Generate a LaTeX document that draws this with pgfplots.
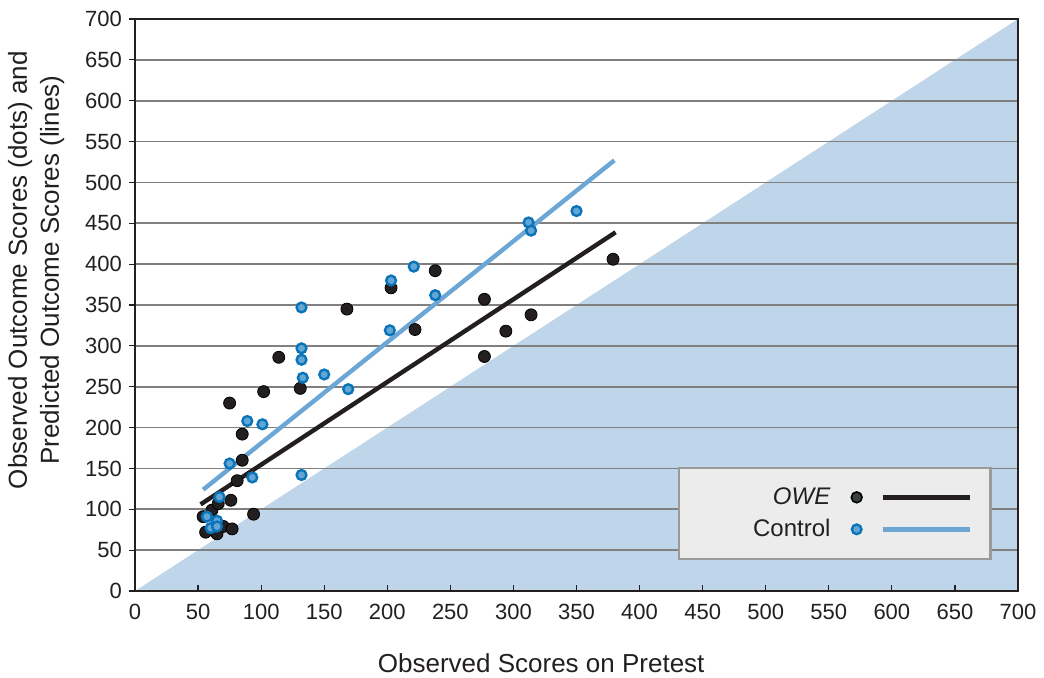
\documentclass[border=0pt]{standalone}
\usepackage{fontspec}
\setmainfont{Liberation Sans}
\usepackage{pgfplots}
\pgfplotsset{compat=1.18}
\definecolor{shade}{HTML}{BFD5E9}
\definecolor{dotblk}{HTML}{231F20}
\definecolor{ctrlline}{HTML}{6CA6D4}
\definecolor{ctrlfill}{HTML}{62A6D6}
\definecolor{ctrledge}{HTML}{0B74B8}
\definecolor{legbg}{HTML}{ECECEC}
\definecolor{legedge}{HTML}{9A9A9A}
\definecolor{legdot}{HTML}{3A3F3F}
\begin{document}
\begin{tikzpicture}
\begin{axis}[
  set layers,
  at={(0pt,0pt)}, anchor=south west,
  scale only axis, width=441.5pt, height=286pt,
  xmin=0, xmax=700, ymin=0, ymax=700,
  xtick distance=50, ytick distance=50,
  xtick pos=bottom, ytick pos=left,
  tick align=outside, major tick length=3pt,
  tick style={dotblk, line width=0.6pt},
  x tick style={yshift=3pt},
  ymajorgrids,
  grid style={black!50, line width=0.9pt},
  axis line style={dotblk, line width=1.2pt},
  /pgf/number format/assume math mode=true,
  tick label style={font=\fontsize{11}{13}\selectfont, text=dotblk},
  xlabel={Observed Scores on Pretest},
  ylabel={Observed Outcome Scores (dots) and\\Predicted Outcome Scores (lines)},
  label style={font=\fontsize{13}{16}\selectfont, text=dotblk},
  xlabel style={at={(axis description cs:0.460,-0.127)}, anchor=center},
  ylabel style={at={(axis description cs:-0.112,0.561)}, anchor=center, align=center},
  legend cell align=right,
  legend plot pos=right,
  legend style={at={(axis description cs:0.97,0.054)}, anchor=south east,
    fill=legbg, draw=legedge, line width=1.3pt,
    font=\fontsize{12}{14}\selectfont,
    inner xsep=9pt, inner ysep=9.5pt, row sep=5.5pt, column sep=10pt,
    nodes={inner sep=0pt, text height=9pt, text depth=1.5pt, text=dotblk}},
]
\addplot[fill=shade, draw=none, on layer=axis background, forget plot]
  coordinates {(0,0) (700,700) (700,0)} -- cycle;

% OWE observed
\addplot[only marks, forget plot, mark=*, mark size=3pt,
  mark options={fill=dotblk, draw=none}]
  coordinates {
  (54,91) (56,72) (61,99) (65,70) (70,79) (77,76) (66,107) (76,111)
  (81,135) (85,160) (94,94) (85,192) (75,230) (102,244) (114,286)
  (131,248) (168,345) (203,371) (222,320) (238,392) (277,357)
  (277,287) (294,318) (314,338) (379,406)};

% OWE predicted
\addplot[dotblk, line width=2.2pt,
  legend image code/.code={
    \draw[fill=legdot, draw=black, line width=0.8pt] (0pt,0pt) circle (2.7pt);
    \draw[dotblk, line width=2.5pt] (13pt,0pt) -- (56.5pt,0pt);}]
  coordinates {(52,106) (381,439)};
\addlegendentry{\textit{OWE}}

% Control predicted
\addplot[ctrlline, line width=2.2pt,
  legend image code/.code={
    \draw[fill=ctrlfill, draw=ctrledge, line width=1.2pt] (0pt,0pt) circle (2.4pt);
    \draw[ctrlline, line width=2.2pt] (13pt,0pt) -- (56.5pt,0pt);}]
  coordinates {(54,124) (380,527)};
\addlegendentry{\hspace*{28pt}Control}

% Control observed
\addplot[only marks, forget plot, mark=*, mark size=2.45pt,
  mark options={fill=ctrlfill, draw=ctrledge, line width=1.2pt}]
  coordinates {
  (57,91) (65,86) (60,77) (65,79) (67,115) (75,156) (93,139) (89,208)
  (101,204) (132,142) (132,347) (132,297) (132,283) (133,261) (150,265)
  (169,247) (202,319) (203,380) (221,397) (238,362) (312,451) (314,441)
  (350,465)};
\end{axis}
\pgfresetboundingbox
\path (-67.5pt,-43pt) rectangle (454.5pt,295.5pt);
\end{tikzpicture}
\end{document}
